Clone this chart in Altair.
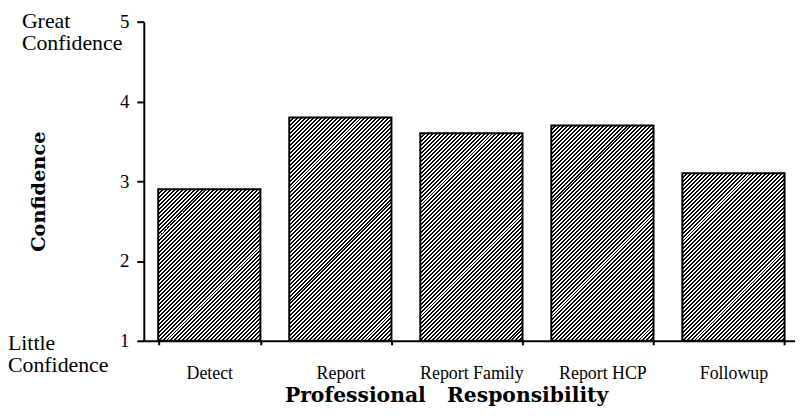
import altair as alt
import pandas as pd

# ---- data ----
categories = ["Detect", "Report", "Report Family", "Report HCP", "Followup"]
confidence = [2.9, 3.8, 3.6, 3.7, 3.1]
y_ticks = [1, 1.5, 2, 2.5, 3, 3.5, 4, 4.5, 5]
y_domain = [1, 5]
top_label = ["Great\nConfidence"]
bottom_label = ["Little\nConfidence"]

# ---- layout ----
W_PLOT, H_PLOT = 657, 322
X_SPAN = 661
PAD_INNER = 0.22
bar_w = X_SPAN / len(categories) * (1 - PAD_INNER)

SERIF = "Liberation Serif"
BOLD_SERIF = "DejaVu Serif"


def hatch(v):
    """Diagonal '/' hatch as a hard-stop linear gradient (45 deg in pixels):
    4 px period along x, 2 px black / 2 px white."""
    h = (v - y_domain[0]) / (y_domain[1] - y_domain[0]) * H_PLOT
    w = bar_w
    s = w + h
    k = s / (w * w + h * h)
    period, dark = 4.0, 2.0
    stops = []
    pos = 0.0
    while pos < s:
        a = round(pos / s, 6)
        b = round(min((pos + dark) / s, 1.0), 6)
        c = round(min((pos + period) / s, 1.0), 6)
        stops += [
            {"offset": a, "color": "black"},
            {"offset": b, "color": "black"},
            {"offset": b, "color": "white"},
            {"offset": c, "color": "white"},
        ]
        pos += period
    return {"gradient": "linear", "x1": 0, "y1": 0,
            "x2": round(w * k, 6), "y2": round(h * k, 6), "stops": stops}


df = pd.DataFrame({"cat": categories, "value": confidence})

fill_spec = {
    "condition": [
        {"test": f"datum.cat === '{c}'", "value": hatch(v)}
        for c, v in zip(categories, confidence)
    ],
    "value": "#333333",
}

bars = alt.Chart(df).mark_bar(stroke="black", strokeWidth=2).encode(
    x=alt.X(
        "cat:N",
        sort=categories,
        scale=alt.Scale(range=[0, X_SPAN], paddingInner=PAD_INNER, paddingOuter=PAD_INNER / 2),
        axis=alt.Axis(
            title="Professional\u00a0\u00a0\u00a0Responsibility",
            titleFont=BOLD_SERIF, titleFontWeight="bold", titleFontSize=20.5,
            titleColor="black", titleX=305, titleY=61, titleAlign="center",
            titleBaseline="alphabetic",
            labelAngle=0, labelFont=SERIF, labelFontSize=18, labelColor="black",
            labelBaseline="alphabetic", labelPadding=34,
            tickSize=4, tickBand="extent", tickWidth=2, tickColor="black",
            domainWidth=2, domainColor="black", grid=False,
        ),
    ),
    y=alt.Y(
        "value:Q",
        scale=alt.Scale(domain=y_domain, zero=False, nice=False),
        axis=alt.Axis(
            title="Confidence",
            titleFont=BOLD_SERIF, titleFontWeight="bold", titleFontSize=19.5,
            titleColor="black", titleX=-100, titleY=171, titleAlign="center",
            titleBaseline="alphabetic", titleAngle=270,
            values=y_ticks, format="d",
            labelExpr="datum.value % 1 === 0 ? datum.label : ''",
            labelFont=SERIF, labelFontSize=19, labelColor="black", labelPadding=8,
            tickSize={"condition": {"test": "datum.value % 1 !== 0", "value": 3}, "value": 7},
            tickWidth=2, tickColor="black",
            domainWidth=2, domainColor="black", grid=False,
        ),
    ),
    y2=alt.Y2Datum(y_domain[0]),
    fill=fill_spec,
)

great = alt.Chart(pd.DataFrame({"t": top_label})).mark_text(
    align="left", baseline="alphabetic", font=SERIF, fontSize=22,
    lineBreak="\n", lineHeight=22.5, dy=6, color="black",
).encode(x=alt.value(-123), y=alt.YDatum(y_domain[1]), text="t:N")

little = alt.Chart(pd.DataFrame({"t": bottom_label})).mark_text(
    align="left", baseline="alphabetic", font=SERIF, fontSize=22,
    lineBreak="\n", lineHeight=22.5, dy=9, color="black",
).encode(x=alt.value(-137), y=alt.YDatum(y_domain[0]), text="t:N")

chart = alt.layer(bars, great, little).properties(
    width=W_PLOT,
    height=H_PLOT,
    autosize=alt.AutoSizeParams(type="none"),
    padding={"left": 137, "top": 12, "right": 0, "bottom": 66},
    background="white",
).configure_view(stroke=None)

chart.save("out.html", embed_options={"renderer": "svg", "actions": False})
